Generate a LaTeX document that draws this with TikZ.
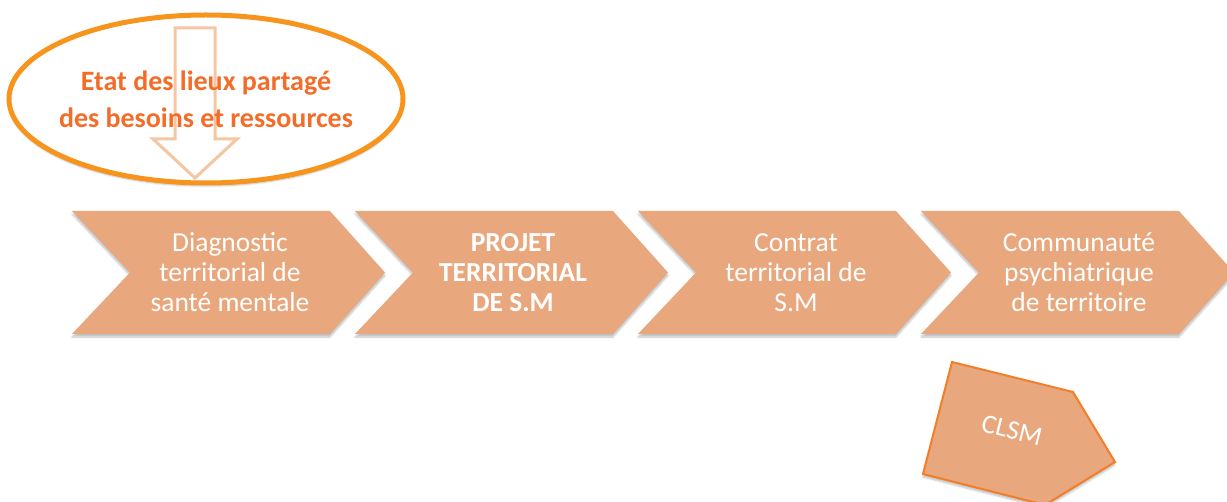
\documentclass[tikz,border=0pt]{standalone}
\usepackage{fontspec}
\setmainfont{Carlito}
\usetikzlibrary{shadows.blur}
\definecolor{chevfill}{RGB}{232,167,125}
\definecolor{ringline}{RGB}{247,148,30}
\definecolor{ringtext}{RGB}{243,108,40}
\definecolor{arrowline}{RGB}{245,198,160}
\definecolor{clsmline}{RGB}{243,126,40}
\begin{document}
\begin{tikzpicture}[x=1pt,y=-1pt,
	soft/.style={blur shadow={shadow xshift=0pt,shadow yshift=-3pt,
	  shadow opacity=25,shadow blur steps=6}},
	chev/.style={fill=chevfill,soft},
	chevtext/.style={text=white,align=center,
	  font=\fontsize{27.5}{30}\selectfont}]
	\useasboundingbox (0,0) rectangle (1227,502);
	% the four steps
	\foreach \x/\name/\txt in {
	    72/diag/{Diagnostic\\territorial de\\santé mentale},
	    355/projet/{\textbf{PROJET}\\\textbf{TERRITORIAL}\\\textbf{DE S.M}},
	    638/contrat/{Contrat\\territorial de\\S.M},
	    921/cpt/{Communauté\\psychiatrique\\de territoire}}{
	  \fill[chev] (\x,211) -- (\x+258,211) -- (\x+313,272.5)
	    -- (\x+258,334) -- (\x,334) -- (\x+58,272.5) -- cycle;
	  \node[chevtext] (\name) at (\x+158,272.5) {\txt};
	}
	% shared inventory
	\draw[ringline,line width=5pt,fill=white,soft]
	  (206,99) ellipse[x radius=197,y radius=84];
	\draw[arrowline,line width=3pt,line join=miter]
	  (175,28) -- (215,28) -- (215,139) -- (237,139)
	  -- (195,178) -- (153,139) -- (175,139) -- cycle;
	\node[text=ringtext,align=center,
	  font=\bfseries\fontsize{28}{37}\selectfont] (etat) at (206,99)
	  {Etat des lieux partagé\\des besoins et ressources};
	% CLSM
	\filldraw[fill=chevfill,draw=clsmline,line width=2pt,soft]
	  (952,362) -- (1073,392) -- (1115,462) -- (1045,505)
	  -- (923,474) -- cycle;
	\node[chevtext,rotate=-14,font=\fontsize{27}{30}\selectfont]
	  (clsm) at (1012,430) {CLSM};
\end{tikzpicture}
\end{document}
